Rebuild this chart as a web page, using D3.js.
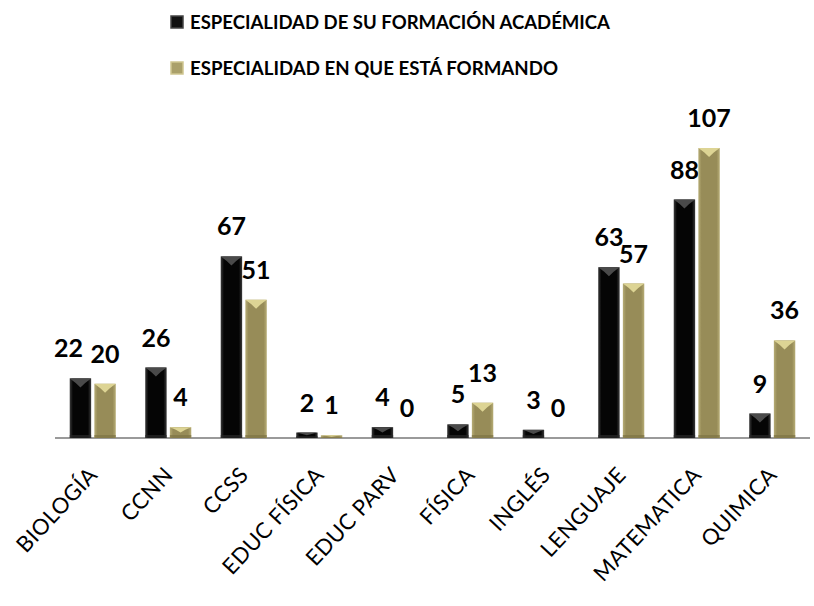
<!DOCTYPE html>
<html>
<head>
<meta charset="utf-8">
<script src="https://cdn.jsdelivr.net/npm/d3@7"></script>
<style>
  body { margin: 0; background: #fff; }
  svg { display: block; font-family: Lato, "Open Sans", sans-serif; }
</style>
</head>
<body>
<div id="chart"></div>
<script>
var categories = ["BIOLOGÍA", "CCNN", "CCSS", "EDUC FÍSICA", "EDUC PARV", "FÍSICA", "INGLÉS", "LENGUAJE", "MATEMATICA", "QUIMICA"];
var seriesNames = ["ESPECIALIDAD DE SU FORMACIÓN ACADÉMICA", "ESPECIALIDAD EN QUE ESTÁ FORMANDO"];
var formacion = [22, 26, 67, 2, 4, 5, 3, 63, 88, 9];
var formando = [20, 4, 51, 1, 0, 13, 0, 57, 107, 36];

var width = 814, height = 606;
var baseY = 438;

var svg = d3.select("#chart").append("svg")
    .attr("width", width)
    .attr("height", height);

var defs = svg.append("defs");

// horizontal gradients for the bevelled bars
function barGradient(id, edge, mid) {
  var g = defs.append("linearGradient").attr("id", id)
      .attr("x1", "0%").attr("x2", "100%").attr("y1", "0%").attr("y2", "0%");
  g.append("stop").attr("offset", "0%").attr("stop-color", edge);
  g.append("stop").attr("offset", "15%").attr("stop-color", mid);
  g.append("stop").attr("offset", "85%").attr("stop-color", mid);
  g.append("stop").attr("offset", "100%").attr("stop-color", edge);
}
barGradient("gBlack", "#3a3a3a", "#050505");
barGradient("gTan", "#b7ad76", "#978c58");

var styles = [
  { fill: "url(#gBlack)", top: "#4a4a4a", foot: "#2a2a2a", swatch: "#111" },
  { fill: "url(#gTan)", top: "#ddd494", foot: "#7d7345", swatch: "#aaa06a" }
];

var x0 = d3.scaleBand()
    .domain(categories)
    .range([55, 810])
    .paddingInner(0.39)
    .paddingOuter(0.195);

var x1 = d3.scaleBand()
    .domain([0, 1])
    .range([0, x0.bandwidth()])
    .paddingInner(0.13);

var y = d3.scaleLinear()
    .domain([0, 120])
    .range([baseY, baseY - 120 * 2.71]);

var rows = categories.map(function(c, i) {
  return { cat: c, vals: [formacion[i], formando[i]] };
});

// axis line
svg.append("line")
    .attr("x1", 55).attr("x2", 810)
    .attr("y1", baseY).attr("y2", baseY)
    .attr("stroke", "#9a9a9a")
    .attr("stroke-width", 2);

var groups = svg.selectAll("g.cat")
    .data(rows)
    .enter()
    .append("g")
    .attr("class", "cat")
    .attr("transform", function(d) { return "translate(" + x0(d.cat) + ",0)"; });

var bars = groups.selectAll("g.bar")
    .data(function(d) { return d.vals.map(function(v, s) { return { v: v, s: s }; }); })
    .enter()
    .append("g")
    .attr("class", "bar");

bars.filter(function(d) { return d.v > 0; }).each(function(d) {
  var g = d3.select(this);
  var bx = x1(d.s), bw = x1.bandwidth();
  var top = y(d.v), h = baseY - top;
  var st = styles[d.s];
  g.append("rect")
      .attr("x", bx).attr("y", top)
      .attr("width", bw).attr("height", h)
      .attr("fill", st.fill);
  var ch = Math.min(9, h / 2);
  g.append("path")
      .attr("d", "M" + bx + "," + top + "L" + (bx + bw) + "," + top +
                 "L" + (bx + bw * 0.72) + "," + (top + ch * 0.5) +
                 "L" + (bx + bw / 2) + "," + (top + ch) +
                 "L" + (bx + bw * 0.28) + "," + (top + ch * 0.5) + "Z")
      .attr("fill", st.top);
  g.append("rect")
      .attr("x", bx).attr("y", baseY - Math.min(3, h / 3))
      .attr("width", bw).attr("height", Math.min(3, h / 3))
      .attr("fill", st.foot)
      .attr("opacity", 0.7);
});

// value labels
bars.append("text")
    .attr("x", function(d) { return x1(d.s) + x1.bandwidth() / 2 + (d.v === 22 ? -12 : 0); })
    .attr("y", function(d) { return y(d.v) - 21; })
    .attr("text-anchor", "middle")
    .attr("font-size", 25)
    .attr("font-weight", "bold")
    .attr("fill", "#000")
    .text(function(d) { return d.v; });

// category labels
svg.selectAll("text.cat")
    .data(categories)
    .enter()
    .append("text")
    .attr("class", "cat")
    .attr("transform", function(d) { return "translate(" + (x0(d) + x0.bandwidth() / 2 + 6) + "," + 476 + ") rotate(-47)"; })
    .attr("text-anchor", "end")
    .attr("font-size", 22)
    .attr("letter-spacing", 0.4)
    .attr("fill", "#000")
    .text(function(d) { return d; });

// legend
var legendY = [22, 68];
var legendW = [420, 368];
var legend = svg.selectAll("g.legend")
    .data(seriesNames)
    .enter()
    .append("g")
    .attr("class", "legend")
    .attr("transform", function(d, i) { return "translate(171," + legendY[i] + ")"; });

legend.append("rect")
    .attr("x", 0).attr("y", -6)
    .attr("width", 12).attr("height", 12)
    .attr("fill", function(d, i) { return styles[i].swatch; })
    .attr("stroke", function(d, i) { return i ? "#cfc690" : "#444"; })
    .attr("stroke-width", 1.5);

legend.append("text")
    .attr("x", 19).attr("y", 7)
    .attr("font-size", 18)
    .attr("font-weight", "bold")
    .attr("fill", "#000")
    .attr("textLength", function(d, i) { return legendW[i]; })
    .attr("lengthAdjust", "spacingAndGlyphs")
    .text(function(d) { return d; });
</script>
</body>
</html>
